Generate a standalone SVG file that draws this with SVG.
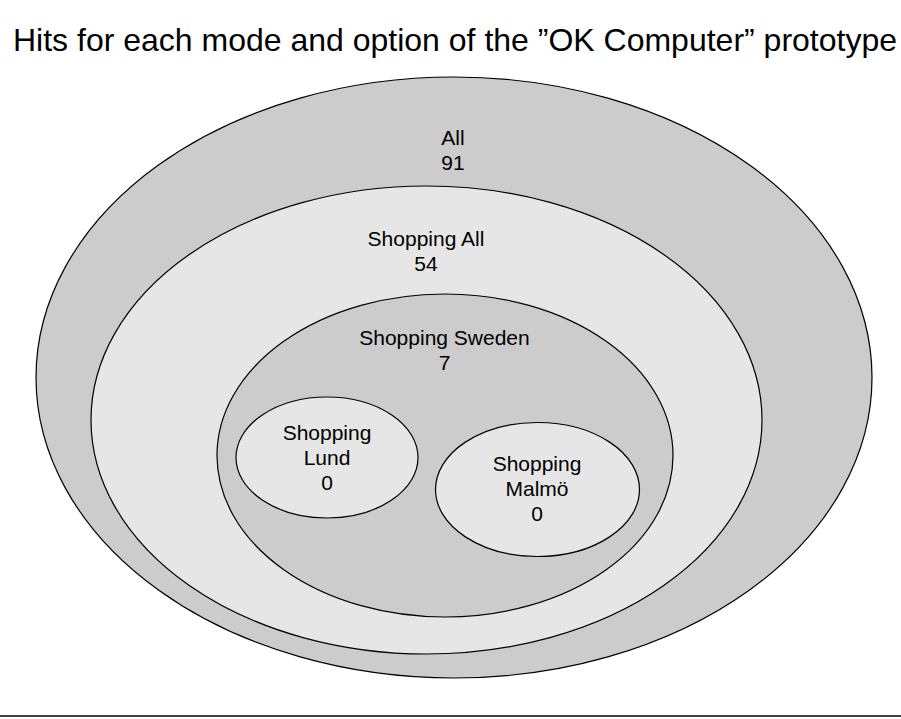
<svg xmlns="http://www.w3.org/2000/svg" width="901" height="719" viewBox="0 0 901 719">
  <style>
    .dark { fill: #cccccc; stroke: #000000; stroke-width: 1.2; }
    .light { fill: #e6e6e6; stroke: #000000; stroke-width: 1.2; }
    .label { font-family: "Liberation Sans", Arial, sans-serif; font-size: 21px; fill: #000000; text-anchor: middle; }
    .title { font-family: "Liberation Sans", Arial, sans-serif; font-size: 32px; fill: #000000; text-anchor: middle; }
  </style>
  <rect x="0" y="0" width="901" height="719" fill="#ffffff"/>
  <text class="title" x="455" y="51">Hits for each mode and option of the ”OK Computer” prototype</text>

  <g id="all">
    <ellipse class="dark" cx="454" cy="377.5" rx="418" ry="300.5"/>
    <text class="label" x="453" y="145">All</text>
    <text class="label" x="453" y="170">91</text>
  </g>
  <g id="shopping-all">
    <ellipse class="light" cx="426.5" cy="420" rx="335.5" ry="234"/>
    <text class="label" x="426" y="246">Shopping All</text>
    <text class="label" x="426" y="271">54</text>
  </g>
  <g id="shopping-sweden">
    <ellipse class="dark" cx="445" cy="455.5" rx="228" ry="161.5"/>
    <text class="label" x="444.5" y="345">Shopping Sweden</text>
    <text class="label" x="444.5" y="370">7</text>
  </g>
  <g id="shopping-lund">
    <ellipse class="light" cx="327" cy="457.5" rx="91" ry="60.5"/>
    <text class="label" x="327" y="440">Shopping</text>
    <text class="label" x="327" y="465">Lund</text>
    <text class="label" x="327" y="490">0</text>
  </g>
  <g id="shopping-malmo">
    <ellipse class="light" cx="537.5" cy="489.5" rx="102" ry="67"/>
    <text class="label" x="537" y="471">Shopping</text>
    <text class="label" x="537" y="496">Malmö</text>
    <text class="label" x="537" y="521">0</text>
  </g>

  <g id="connectors"></g>

  <line x1="0" y1="716" x2="901" y2="716" stroke="#000000" stroke-width="1.5"/>
</svg>
